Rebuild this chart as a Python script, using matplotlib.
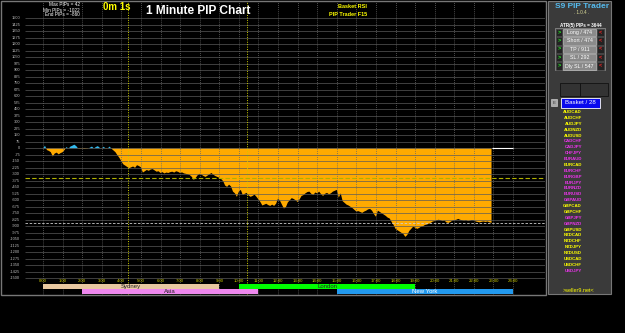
import numpy as np
import matplotlib
matplotlib.use("Agg")
import matplotlib.pyplot as plt
from matplotlib.patches import Rectangle

plt.rcParams["font.family"] = ["Liberation Sans", "DejaVu Sans"]

# pip curve, one reading every 6 minutes (hours 0.0 .. 22.9)
hours = np.round(np.arange(0, 23.0, 0.1), 1)
pips = [
    -5, 30, -20, -30, -45, -95, -60, -50, -70, -55,
    -45, -20, 15, -5, 20, 30, 42, 25, -4, -6,
    -3, -8, -5, -4, 8, 20, -2, 15, 25, 5,
    -3, 18, -5, -2, 20, -5, -25, -45, -80, -110,
    -150, -185, -200, -215, -230, -220, -210, -225, -195, -205,
    -220, -280, -265, -250, -260, -245, -240, -255, -270, -265,
    -285, -275, -290, -280, -285, -275, -270, -280, -265, -272,
    -285, -278, -290, -295, -300, -310, -330, -365, -340, -310,
    -295, -305, -320, -330, -315, -300, -285, -305, -320, -330,
    -340, -355, -380, -430, -445, -420, -440, -500, -520, -560,
    -500, -480, -540, -525, -515, -545, -560, -550, -535, -560,
    -590, -620, -660, -650, -640, -655, -665, -650, -665, -640,
    -580, -605, -650, -695, -680, -625, -600, -575, -585, -600,
    -620, -590, -550, -540, -520, -505, -500, -525, -540, -510,
    -520, -500, -530, -550, -525, -515, -530, -520, -500, -490,
    -480, -570, -520, -610, -630, -650, -660, -675, -690, -710,
    -730, -725, -735, -745, -730, -720, -705, -700, -720, -760,
    -790, -720, -735, -750, -765, -780, -800, -810, -850, -885,
    -930, -945, -960, -975, -990, -1022, -1000, -955, -930, -905,
    -915, -930, -920, -905, -900, -885, -880, -870, -860, -845,
    -840, -830, -825, -830, -840, -835, -855, -862, -850, -835,
    -830, -825, -815, -825, -830, -835, -830, -840, -835, -828,
    -832, -845, -850, -855, -848, -845, -850, -845, -855, -860,
]
pips = np.array(pips)

ytick_vals = list(range(1500, -1501, -75))
xtick_hours = list(range(0, 25))
marker_hours = [4.34, 10.4]
atr_level = -343
end_level = -860

sessions = ["Sydney", "Asia", "London", "New York"]
sess_start = [0, 2, 10, 15]
sess_end = [9, 11, 19, 24]
sess_row = [0, 1, 0, 1]
sess_colors = ["#e8c8a0", "#ee88ee", "#00ff00", "#2299ee"]
sess_text = ["#222222", "#222222", "#222222", "#ffffff"]

buttons = ["Long / 474", "Short / 474", "TP / 911", "SL / 292", "Dly SL / 547"]
pairs = ["AUDCAD", "AUDCHF", "AUDJPY", "AUDNZD", "AUDUSD", "CADCHF", "CADJPY",
         "CHFJPY", "EURAUD", "EURCAD", "EURCHF", "EURGBP", "EURJPY", "EURNZD",
         "EURUSD", "GBPAUD", "GBPCAD", "GBPCHF", "GBPJPY", "GBPNZD", "GBPUSD",
         "NZDCAD", "NZDCHF", "NZDJPY", "NZDUSD", "USDCAD", "USDCHF", "USDJPY"]
pair_magenta = ["CADCHF", "CADJPY", "CHFJPY", "EURAUD", "EURCHF", "EURGBP",
                "EURJPY", "EURNZD", "EURUSD", "GBPAUD", "GBPJPY", "GBPNZD", "USDJPY"]

W, H = 625, 333
fig = plt.figure(figsize=(W / 100, H / 100), dpi=100, facecolor="black")

# main chart, placed in pixel terms
ax = fig.add_axes([1 / W, 1 - 295 / H, 544 / W, 294 / H])
ax.set_facecolor("black")
ax.set_xlim(-2.145, 25.63)
ax.set_ylim(-1693, 1700)
ax.axis("off")

ax.fill_between(hours, pips, 0, where=pips <= 0, interpolate=True,
                color="#ffaa00", lw=0, zorder=1)
ax.fill_between(hours, pips, 0, where=pips >= 0, interpolate=True,
                color="#33bbee", lw=0, zorder=1)

# grid
ax.hlines(ytick_vals, -0.92, 25.63, color="#5a5a5a", lw=0.7, alpha=0.7, zorder=2)
ax.vlines(xtick_hours, -1693, 1700, color="#666666", lw=0.6,
          linestyles=(0, (1, 1.5)), zorder=2)
ax.vlines(marker_hours, -1693, 1700, color="#cccc00", lw=0.7,
          linestyles=(0, (1, 1.5)), zorder=3)
ax.hlines(atr_level, -0.92, 25.63, color="#b0b000", lw=0.8,
          linestyles=(0, (4, 2)), zorder=3)
ax.hlines(end_level, -0.92, 25.63, color="#cccccc", lw=0.6,
          linestyles=(0, (3, 2)), zorder=3)
ax.hlines(0, hours[-1], 24, color="white", lw=0.8, zorder=3)

for v in ytick_vals:
    ax.text(-1.17, v, str(v), color="#bbbbbb", fontsize=2.9, ha="right",
            va="center")
for h in xtick_hours:
    ax.text(h, -1531, f"{h}:00", color="#cccc00", fontsize=3.1, ha="center",
            va="center")

# trading sessions
row_y = [(-1566, -1624), (-1624, -1681)]
for name, s, e, r, c, tc in zip(sessions, sess_start, sess_end, sess_row,
                                sess_colors, sess_text):
    y0, y1 = row_y[r]
    ax.barh((y0 + y1) / 2, e - s, left=s, height=y0 - y1, color=c, zorder=4)
    ax.text((s + e) / 2, (y0 + y1) / 2, name, color=tc, fontsize=4.3,
            ha="center", va="center", zorder=5)

# overlay in pixel coordinates for frame, titles and the side panel
ov = fig.add_axes([0, 0, 1, 1], facecolor="none")
ov.set_xlim(0, W)
ov.set_ylim(H, 0)
ov.axis("off")

ov.add_patch(Rectangle((1, 1), 545, 294, fill=False, ec="#777777", lw=1))

for i, t in enumerate(["Max PIPs = 42", "Min PIPs = -1022", "End PIPs = -860"]):
    ov.text(80, 5 + i * 5, t, color="white", fontsize=3.4, ha="right", va="center")
ov.text(103, 7.5, "0m 1s", color="#ffff00", fontsize=7, fontweight="bold",
        ha="left", va="center")
ov.text(146, 11, "1 Minute PIP Chart", color="white", fontsize=8.6,
        fontweight="bold", ha="left", va="center")
ov.text(367, 7, "Basket RSI", color="#ffff00", fontsize=4, fontweight="bold",
        ha="right", va="center")
ov.text(367, 14, "PIP Trader F15", color="#ffff00", fontsize=4, fontweight="bold",
        ha="right", va="center")

# side panel
ov.add_patch(Rectangle((548, 1), 63, 293, fc="#3a3a3a", ec="#777777", lw=0.8))
ov.text(582, 6.5, "S9 PIP Trader", color="#55bbee", fontsize=6,
        fontweight="bold", ha="center", va="center")
ov.text(582, 13, ". 1.0.4 .", color="#dddd99", fontsize=3.3, ha="center",
        va="center")
ov.text(581, 25, "ATR(5) PIPs = 3644", color="white", fontsize=3.3,
        fontweight="bold", ha="center", va="center")
ov.add_patch(Rectangle((555, 28), 50, 42, fill=False, ec="#888888", lw=0.6))
for i, b in enumerate(buttons):
    yc = 32.5 + i * 8.4
    ov.add_patch(Rectangle((563, yc - 3.7), 33, 7.4, fc="#8a8a8a", ec="#bbbbbb",
                           lw=0.5))
    ov.text(579.5, yc, b, color="white", fontsize=3.8, ha="center", va="center")
    ov.add_patch(Rectangle((556, yc - 3.7), 6, 7.4, fc="#222222", ec="#555555",
                           lw=0.4))
    ov.text(559, yc, ">", color="#22ee22", fontsize=4, ha="center", va="center",
            fontweight="bold")
    ov.add_patch(Rectangle((597, yc - 3.7), 7, 7.4, fc="#222222", ec="#555555",
                           lw=0.4))
    ov.text(600.5, yc, "<", color="#ee2222", fontsize=4, ha="center", va="center",
            fontweight="bold")

ov.add_patch(Rectangle((560, 83), 20, 13, fc="#333333", ec="#111111", lw=0.6))
ov.add_patch(Rectangle((580, 83), 28, 13, fc="#333333", ec="#111111", lw=0.6))
ov.add_patch(Rectangle((551, 99), 6, 7, fc="#aaaaaa", ec="#dddddd", lw=0.4))
ov.text(554, 102.5, "E", color="#333333", fontsize=3.2, ha="center", va="center")
ov.add_patch(Rectangle((561, 97.5), 39, 10, fc="#0a0aee", ec="white", lw=0.6))
ov.text(580.5, 102.5, "Basket / 28", color="white", fontsize=4.4, ha="center",
        va="center")

for i, p in enumerate(pairs):
    c = "#ee33ee" if p in pair_magenta else "#ffff00"
    ov.text(582, 112 + i * 5.88, p, color=c, fontsize=3.2, fontweight="bold",
            ha="right", va="center")
ov.text(579, 291, ">seller9.net<", color="#ffff00", fontsize=4, ha="center",
        va="center")

fig.savefig("out.png", dpi=100, facecolor="black")
